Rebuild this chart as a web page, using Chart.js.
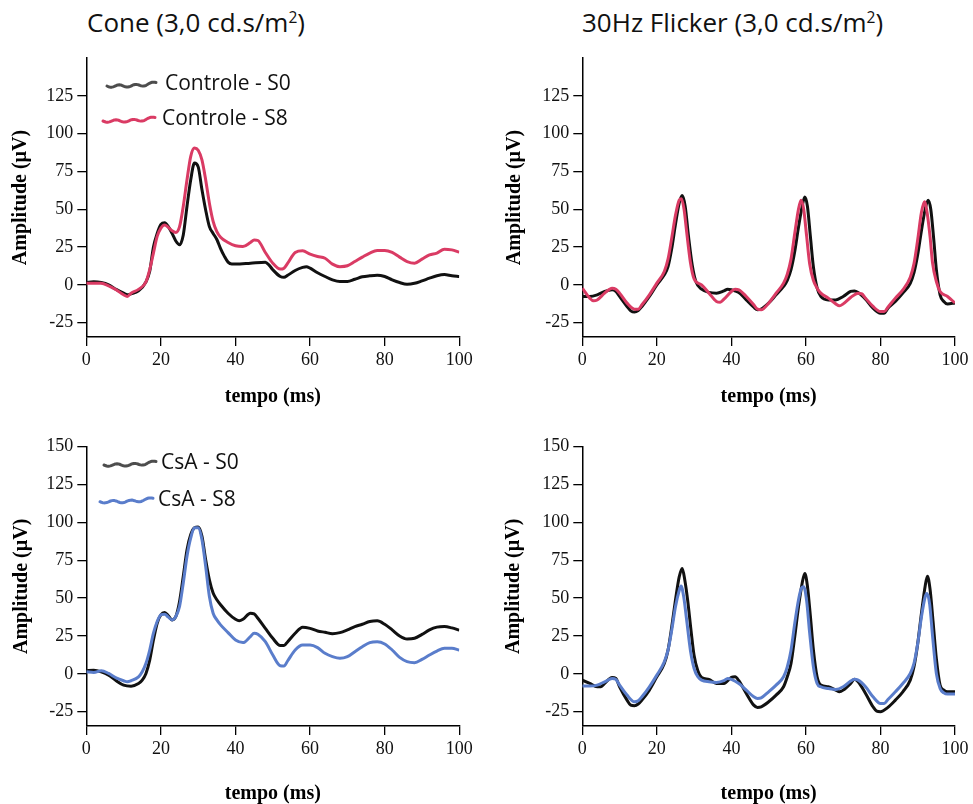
<!DOCTYPE html>
<html>
<head>
<meta charset="utf-8">
<script src="https://cdn.jsdelivr.net/npm/chart.js@4.4.1/dist/chart.umd.min.js"></script>
<style>
  html, body { margin: 0; padding: 0; background: #fff; }
  body { width: 973px; height: 804px; position: relative; overflow: hidden; }
  .head { position: absolute; top: 7px; font-family: "Open Sans", sans-serif; font-size: 26px; line-height: 30px; color: #111; white-space: nowrap; }
  .head sup { font-size: 60%; line-height: 0; vertical-align: 0.6em; }
  canvas { position: absolute; }
</style>
</head>
<body>
<div class="head" style="left:87px">Cone (3,0 cd.s/m<sup>2</sup>)</div>
<div class="head" style="left:582px">30Hz Flicker (3,0 cd.s/m<sup>2</sup>)</div>

<canvas id="coneCtrl" width="486" height="375" style="left:0;top:40px"></canvas>
<canvas id="flickCtrl" width="483" height="375" style="left:490px;top:40px"></canvas>
<canvas id="coneCsa" width="486" height="384" style="left:0;top:420px"></canvas>
<canvas id="flickCsa" width="483" height="384" style="left:490px;top:420px"></canvas>

<script>
// tick labels
const timeTicks = [0, 20, 40, 60, 80, 100];
const ampTicksTop = [-25, 0, 25, 50, 75, 100, 125];
const ampTicksBottom = [-25, 0, 25, 50, 75, 100, 125, 150];

// Cone response, control group
const coneCtrlS0Time = [0,2,4,6,8,10,11,12,14,16,17,18,19,20,21,22,23,24,25,26,27,28,29,30,31,32,33,34,35,36,37,38,39,40,44,48,49,50,52,53,54,56,58,59,60,62,64,66,68,70,72,74,76,78,80,82,84,86,88,90,92,94,96,98,100];
const coneCtrlS0Amp = [1.5,2,1.5,0,-3,-5.5,-6.6,-6,-4,2,9,25,34,40,41,38.5,34,29,26.5,33,52,69.5,80.5,78,63,49.5,38.5,34,30,24,19,15,13.7,13.7,14.3,15,13,10,5.5,5,6.3,9.5,11.5,12,11,8,5.5,3.3,2.2,2.2,3.7,5.3,6,6.4,5.5,3.3,1.5,0.4,1,2.6,4.4,6,6.8,6,5.5];
const coneCtrlS8Time = [0,2,4,6,8,10,11,12,14,16,17,18,19,20,21,22,23,24,25,26,27,28,29,30,31,32,33,34,35,36,38,40,42,44,45,46,48,50,52,53,54,56,58,60,62,64,66,68,70,72,74,76,78,80,82,84,86,88,90,92,94,96,98,100];
const coneCtrlS8Amp = [1,1,1,-0.7,-3.3,-6.6,-7.7,-5.5,-3,2,10,21,32,37.5,39.6,38,35.7,34.6,38.5,52,69.5,85,90.5,89,82.6,69.5,54,42,35.2,31.5,28,25.8,25.3,28,29.7,29.3,21.4,14.3,10.4,11,14.3,21.4,22.5,20.3,18.7,17.6,13.7,12,12.6,15.4,18.3,21,22.7,22.7,21.4,18.3,15.4,14.3,17,19.8,21,23.6,23.1,21.6];

// 30 Hz flicker, control group
const flickCtrlS0Time = [0,2,4,6,8,9,10,12,13,14,15,16,18,20,22,23,24,25,26,26.8,27.6,28.5,29.5,30.5,32,34,36,38,39,40,42,44,46,47,48,50,52,54,55,56,57,58,59,59.7,60.4,61.2,62,63,64,66,68,70,72,73,74,76,78,80,81,82,84,86,88,89,90,91,92,92.8,93.5,94.3,95,96,97,98,100];
const flickCtrlS0Amp = [-7.7,-7.7,-6.6,-4.4,-3.3,-4.4,-7.7,-14.3,-17.2,-18,-17,-14.3,-7.7,0,6.6,12,24,40,54,59,52,32,13,2,-2.9,-5,-5.5,-4,-2.9,-3.3,-5,-10,-14.8,-16.5,-16,-12,-6.6,-1.1,3,10,22,38,52,58,52,32,12,-2,-7.7,-10,-10,-7.7,-4.4,-4,-5,-9.5,-15.5,-18.8,-18.8,-15.5,-11,-5.5,1,8,20,36,50,56,50,30,10,-6.6,-11,-12.6,-12];
const flickCtrlS8Time = [0,2,3,4,6,8,9,10,12,14,15,16,18,20,22,23,24,25,26,26.6,27.3,28,29,30,32,34,36,37,38,40,41,42,44,46,47,48,50,52,54,55,56,57,58,58.7,59.4,60.2,61,62,63,64,66,68,69,70,72,74,75,76,78,80,81,82,84,86,88,89,90,91,91.8,92.5,93.3,94,95,96,98,100];
const flickCtrlS8Amp = [-2.2,-8.8,-10.6,-10,-5.5,-2.2,-2.9,-5.5,-12.1,-16.1,-16.1,-13.2,-6.6,1.1,8.8,17,31,46,56,57,50,35,15,4,0,-5.5,-11,-11.5,-9.5,-4.4,-2.9,-3.3,-7.7,-13.2,-16.1,-16.5,-12.1,-5.5,1.1,7,17,34,50,56,50,32,14,3,-2.2,-5.5,-8.8,-12.6,-13.9,-12.6,-8.4,-5.5,-6,-8.8,-14.3,-17.7,-17.7,-14.8,-8.8,-3.3,5,14,30,48,55,48,32,14,2.2,-4.4,-7.7,-12];

// Cone response, CsA group
const coneCsaS0Time = [0,2,4,6,8,10,12,14,15,16,17,18,19,20,21,22,23,24,25,26,27,28,29,30,31,32,33,34,35,36,38,40,41,42,44,45,46,48,50,52,53,54,56,58,60,62,64,66,68,70,72,74,76,78,80,82,84,86,88,90,92,94,96,98,100];
const coneCsaS0Amp = [2,2.4,1.3,-0.9,-4.6,-7.5,-8.2,-6.4,-4.2,0.2,9,22.3,33.4,39,40.5,38.3,35.6,37.8,47.8,64.4,82,92,96.5,97,91,75.4,62,53.3,48.9,45.6,40,36,35,36,40,39.6,36.7,30,23.4,18.6,18.6,21.2,26.8,30.8,30,28.3,27.4,26.5,27.2,29,31.2,32.7,34.5,35,32.7,29,25,23,23.5,26,29,30.8,31.2,30.3,28.8];
const coneCsaS8Time = [0,2,4,6,8,10,11,12,14,15,16,17,18,19,20,21,22,23,24,25,26,27,28,29,30,31,32,33,34,35,36,38,40,42,44,45,46,48,50,52,53,54,56,58,60,62,64,66,68,70,72,74,76,78,80,82,84,86,88,90,92,94,96,98,100];
const coneCsaS8Amp = [1.3,0.9,2,0.2,-2.7,-4.6,-5.3,-4.6,-2,1.3,6.9,15.7,26.8,34.5,39,39.4,37.4,35.6,37.8,44.5,60,77.7,89.8,96.5,96.5,88.7,71,51,40,35.6,32.3,27.2,22.3,20.6,24.6,26.8,26.1,21.2,12.4,5.3,5.1,8.6,15.7,19,19,17.3,13.5,11.3,10.2,11.3,14.6,17.9,20.6,21.2,19.7,15.7,10.8,8,7.3,9.5,12.4,15,16.8,16.8,15.7];

// 30 Hz flicker, CsA group
const flickCsaS0Time = [0,2,4,5,6,8,9,10,12,13,14,15,16,18,20,22,23,24,25,26,26.8,27.5,28.3,29.2,30,31,32,34,36,38,40,41,42,44,46,47,48,50,52,54,55,56,57,58,59,59.7,60.4,61.2,62,63,64,66,68,69,70,72,73,74,76,78,79,80,82,84,86,88,89,90,91,92,92.6,93.3,94.1,95,96,97,98,100];
const flickCsaS0Amp = [-4.2,-6.4,-8.6,-8.6,-6.4,-2.4,-3.1,-8.6,-17.4,-20.7,-21.1,-20,-17.4,-10.8,-2,6.8,15.6,31,48.7,64,69.6,62,48,28,12,2,-2.4,-3.7,-6.4,-6.4,-2.4,-2,-4.6,-13,-20.7,-22.2,-21.8,-18.5,-14.1,-8.6,-2,6.8,24.4,44,60,66.3,58,38,16,-2,-7.5,-8.6,-10.8,-11.9,-10.8,-6.4,-3.7,-5.3,-13,-21.8,-24.7,-25.1,-22.2,-17.4,-11.9,-4.2,4.6,20,40,58,64.5,56,35,10,-7.5,-10.8,-11.9,-11.9];
const flickCsaS8Time = [0,2,4,6,8,9,10,12,14,15,16,18,20,22,23,24,25,26,26.5,27.2,28,29,30,31,32,34,36,38,39,40,42,44,46,47,48,50,52,54,55,56,57,58,58.7,59.4,60.2,61,62,63,64,66,68,70,72,73,74,76,78,80,81,82,84,86,88,89,90,91,92,92.5,93.2,94,95,96,97,98,100];
const flickCsaS8Amp = [-8.1,-8.1,-7.5,-5.3,-3.1,-3.7,-7.5,-14.1,-18.5,-17.8,-15.2,-8.6,-0.9,7.9,15.6,28.9,44.3,55,58,51,35.5,15.6,3.5,-2,-4.2,-5.3,-5.7,-4.6,-3.1,-3.7,-6.4,-10.8,-15.2,-16.3,-15.9,-11.9,-7.5,-2,4.6,15.6,33.3,48.7,56,57.5,48,27,4.6,-6.4,-8.6,-9.7,-10.4,-8.6,-4.8,-3.7,-4.2,-8.6,-15.2,-19.6,-19.6,-17,-11.9,-6.4,0.2,6.8,20,37.6,50.9,53,46,24.4,0.2,-9.7,-12.6,-13.4,-13.4];

const BLACK = '#111111';
const PINK = '#da3b64';
const BLUE = '#5a7dcb';

function toPoints(times, amps) {
    return times.map((t, i) => ({ x: t, y: amps[i] }));
}

function trace(label, times, amps, color, legendColor, order) {
    return {
        label: label,
        data: toPoints(times, amps),
        borderColor: color,
        legendColor: legendColor,
        borderWidth: 3,
        pointRadius: 0,
        fill: false,
        cubicInterpolationMode: 'monotone',
        order: order
    };
}

// hand-drawn style legend placed inside the plot area
const wavyLegend = {
    id: 'wavyLegend',
    afterDraw(chart, args, opts) {
        if (!opts.entries) return;
        const ctx = chart.ctx;
        const area = chart.chartArea;
        opts.entries.forEach((e, i) => {
            const ds = chart.data.datasets[i];
            const x0 = area.left + e.x;
            const y0 = area.top + e.y;
            ctx.save();
            ctx.strokeStyle = ds.legendColor;
            ctx.lineWidth = 3;
            ctx.lineCap = 'round';
            ctx.lineJoin = 'round';
            ctx.beginPath();
            for (let k = 0; k <= 40; k++) {
                const f = k / 40;
                const x = x0 + f * e.len;
                const y = y0 + 1.2 * Math.sin(f * Math.PI * 6) - 3.5 * Math.pow(f, 4);
                if (k === 0) ctx.moveTo(x, y); else ctx.lineTo(x, y);
            }
            ctx.stroke();
            ctx.fillStyle = '#111';
            ctx.font = '21px "Open Sans", sans-serif';
            ctx.textBaseline = 'middle';
            ctx.textAlign = 'left';
            ctx.fillText(ds.label, area.left + e.textX, y0 - 1.5);
            ctx.restore();
        });
    }
};

function makeChart(id, datasets, p) {
    const serif = 'Liberation Serif, "Times New Roman", serif';
    new Chart(document.getElementById(id), {
        type: 'line',
        data: { datasets: datasets },
        plugins: [wavyLegend],
        options: {
            responsive: false,
            animation: false,
            devicePixelRatio: 1,
            layout: { padding: { left: 0, top: p.top, right: p.right, bottom: 0 } },
            plugins: {
                legend: { display: false },
                tooltip: { enabled: false },
                wavyLegend: { entries: p.legend }
            },
            scales: {
                x: {
                    type: 'linear',
                    min: 0,
                    max: 100,
                    afterBuildTicks: s => { s.ticks = timeTicks.map(v => ({ value: v })); },
                    afterFit: s => { s.height = p.xHeight; },
                    grid: { drawOnChartArea: false, tickLength: 9, color: '#000', lineWidth: 1.3 },
                    border: { color: '#000', width: 1.5 },
                    ticks: { color: '#111', font: { family: serif, size: 18 }, padding: 3, maxRotation: 0 },
                    title: {
                        display: true,
                        text: 'tempo (ms)',
                        color: '#000',
                        font: { family: serif, size: 20, weight: 'bold' },
                        padding: { top: 0, bottom: p.xTitlePad }
                    }
                },
                y: {
                    type: 'linear',
                    min: -34.5,
                    max: 150,
                    afterBuildTicks: s => { s.ticks = p.yTicks.map(v => ({ value: v })); },
                    afterFit: s => { s.width = p.yWidth; },
                    grid: { drawOnChartArea: false, tickLength: 9, color: '#000', lineWidth: 1.3 },
                    border: { color: '#000', width: 1.5 },
                    ticks: { color: '#111', font: { family: serif, size: 18 }, padding: 4 },
                    title: {
                        display: true,
                        text: 'Amplitude (µV)',
                        color: '#000',
                        font: { family: serif, size: 20, weight: 'bold' },
                        padding: { top: p.yTitlePad, bottom: 0 }
                    }
                }
            }
        }
    });
}

makeChart('coneCtrl', [
    trace('Controle - S0', coneCtrlS0Time, coneCtrlS0Amp, BLACK, '#4d4d4d', 2),
    trace('Controle - S8', coneCtrlS8Time, coneCtrlS8Amp, PINK, PINK, 1)
], {
    top: 18, right: 26.7, yWidth: 86.3, xHeight: 78, xTitlePad: 6, yTitlePad: 9,
    yTicks: ampTicksTop,
    legend: [
        { x: 20.7, y: 28, len: 49, textX: 78.7 },
        { x: 16.7, y: 63, len: 52, textX: 75.7 }
    ]
});

makeChart('flickCtrl', [
    trace('Controle - S0', flickCtrlS0Time, flickCtrlS0Amp, BLACK, '#4d4d4d', 2),
    trace('Controle - S8', flickCtrlS8Time, flickCtrlS8Amp, PINK, PINK, 1)
], {
    top: 18, right: 18, yWidth: 92.3, xHeight: 78, xTitlePad: 6, yTitlePad: 13,
    yTicks: ampTicksTop,
    legend: null
});

makeChart('coneCsa', [
    trace('CsA - S0', coneCsaS0Time, coneCsaS0Amp, BLACK, '#4d4d4d', 2),
    trace('CsA - S8', coneCsaS8Time, coneCsaS8Amp, BLUE, BLUE, 1)
], {
    top: 26.7, right: 26.7, yWidth: 86.3, xHeight: 78, xTitlePad: -2, yTitlePad: 10,
    yTicks: ampTicksBottom,
    legend: [
        { x: 17.7, y: 18.3, len: 52, textX: 74.7 },
        { x: 13.7, y: 55, len: 53, textX: 71.7 }
    ]
});

makeChart('flickCsa', [
    trace('CsA - S0', flickCsaS0Time, flickCsaS0Amp, BLACK, '#4d4d4d', 2),
    trace('CsA - S8', flickCsaS8Time, flickCsaS8Amp, BLUE, BLUE, 1)
], {
    top: 26.7, right: 18, yWidth: 92.3, xHeight: 78, xTitlePad: -2, yTitlePad: 12,
    yTicks: ampTicksBottom,
    legend: null
});
</script>
</body>
</html>
